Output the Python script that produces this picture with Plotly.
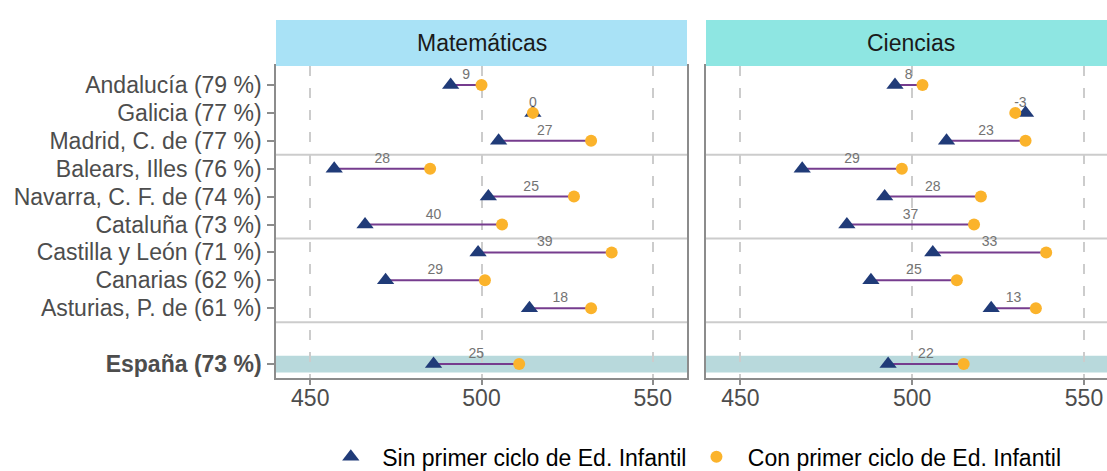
import plotly.graph_objects as go

# regions, top to bottom, as they appear on the y axis
regiones = ['Andalucía (79 %)', 'Galicia (77 %)', 'Madrid, C. de (77 %)',
            'Balears, Illes (76 %)', 'Navarra, C. F. de (74 %)', 'Cataluña (73 %)',
            'Castilla y León (71 %)', 'Canarias (62 %)', 'Asturias, P. de (61 %)',
            'España (73 %)']
posiciones = [11, 10, 9, 8, 7, 6, 5, 4, 3, 1]

mat_sin = [491, 515, 505, 457, 502, 466, 499, 472, 514, 486]
mat_con = [500, 515, 532, 485, 527, 506, 538, 501, 532, 511]
cie_sin = [495, 533, 510, 468, 492, 481, 506, 488, 523, 493]
cie_con = [503, 530, 533, 497, 520, 518, 539, 513, 536, 515]

materias = ['Matemáticas', 'Ciencias']
strip_colors = ['#A9E2F6', '#8EE6E2']
ticks_x = [450, 500, 550]

FONT = 'Liberation Sans, Arial, sans-serif'
W, H = 1107, 471
navy = '#203B78'
gold = '#FBB32B'
purple = '#763C8E'
grey_line = '#CCCCCC'
FS = 23
NB = '\u00a0'  # small gap between legend symbol and text

fig = go.Figure()

panels = [('x', 'y', mat_sin, mat_con, True), ('x2', 'y2', cie_sin, cie_con, False)]

for xa, ya, sin, con, legend in panels:
    seg_x, seg_y = [], []
    for s, c, p in zip(sin, con, posiciones):
        seg_x += [s, c, None]
        seg_y += [p, p, None]
    fig.add_trace(go.Scatter(x=seg_x, y=seg_y, mode='lines',
                             line=dict(color=purple, width=2),
                             showlegend=False, hoverinfo='skip',
                             xaxis=xa, yaxis=ya))
    # difference labels
    fig.add_trace(go.Scatter(x=[(s + c) / 2 for s, c in zip(sin, con)],
                             y=[p + 0.34 for p in posiciones],
                             text=[str(round(c - s)) for s, c in zip(sin, con)],
                             mode='text',
                             textfont=dict(family=FONT, size=14, color='#737373'),
                             showlegend=False, hoverinfo='skip',
                             xaxis=xa, yaxis=ya))
    fig.add_trace(go.Scatter(x=sin, y=posiciones, mode='markers',
                             name=NB + 'Sin primer ciclo de Ed. Infantil',
                             marker=dict(symbol='triangle-up', size=15, color=navy),
                             showlegend=legend, legendgroup='sin',
                             xaxis=xa, yaxis=ya))
    fig.add_trace(go.Scatter(x=con, y=posiciones, mode='markers',
                             name=NB + 'Con primer ciclo de Ed. Infantil',
                             marker=dict(symbol='circle', size=12, color=gold),
                             showlegend=legend, legendgroup='con',
                             xaxis=xa, yaxis=ya))

y_dom = [1 - 378 / H, 1 - 66 / H]
strip_top = 1 - 20 / H
x_doms = [[276 / W, 687 / W], [706 / W, 1.0]]

axis_common = dict(showline=True, mirror=True, linecolor='#8C8C8C', linewidth=1.5,
                   zeroline=False)
xaxis_common = dict(tickvals=ticks_x, showgrid=True, gridcolor=grey_line, gridwidth=2,
                    griddash='10px,12px', ticks='outside', ticklen=5,
                    tickcolor='#8C8C8C', tickwidth=1.5, ticklabelstandoff=-6,
                    tickfont=dict(family=FONT, size=FS, color='#4D4D4D'))

fig.update_layout(
    xaxis=dict(domain=x_doms[0], range=[440, 560], anchor='y',
               **xaxis_common, **axis_common),
    xaxis2=dict(domain=x_doms[1], range=[440, 556.7], anchor='y2',
                **xaxis_common, **axis_common),
    yaxis=dict(domain=y_dom, range=[0.5, 11.68], tickvals=posiciones,
               ticktext=[('<b>%s</b>' % r) if r.startswith('España') else r for r in regiones],
               showgrid=False, ticks='outside', ticklen=7, tickcolor='#8C8C8C', tickwidth=1.5,
               ticklabelstandoff=1,
               tickfont=dict(family=FONT, size=FS, color='#4D4D4D'),
               anchor='x', **axis_common),
    yaxis2=dict(domain=y_dom, range=[0.5, 11.68], showticklabels=False, ticks='',
                showgrid=False, anchor='x2', **axis_common),
    width=W, height=H,
    margin=dict(l=0, r=0, t=0, b=0, autoexpand=False),
    paper_bgcolor='white', plot_bgcolor='white',
    font=dict(family=FONT, size=FS, color='#1A1A1A'),
    legend=dict(orientation='h', x=0.629, xanchor='center', y=0.03, yanchor='middle',
                font=dict(family=FONT, size=FS, color='black'), itemwidth=40,
                bgcolor='rgba(0,0,0,0)', itemclick=False),
)

shapes = []
annotations = []
for i, (xa, ya) in enumerate([('x', 'y'), ('x2', 'y2')]):
    # España highlight band
    shapes.append(dict(type='rect', xref=xa + ' domain', yref=ya, x0=0, x1=1, y0=0.7, y1=1.3,
                       fillcolor='#B8D9DC', line=dict(width=0), layer='below'))
    # group separators
    for ysep in [8.5, 5.5, 2.5]:
        shapes.append(dict(type='line', xref=xa + ' domain', yref=ya, x0=0, x1=1, y0=ysep, y1=ysep,
                           line=dict(color=grey_line, width=2), layer='below'))
    # facet strips
    shapes.append(dict(type='rect', xref='paper', yref='paper',
                       x0=x_doms[i][0], x1=x_doms[i][1], y0=y_dom[1], y1=strip_top,
                       fillcolor=strip_colors[i], line=dict(width=0)))
    annotations.append(dict(text=materias[i], xref='paper', yref='paper',
                            x=x_doms[i][0] + 205.5 / W, xanchor='center',
                            y=(y_dom[1] + strip_top) / 2, yanchor='middle', showarrow=False,
                            font=dict(family=FONT, size=FS, color='#1A1A1A')))

fig.update_layout(shapes=shapes, annotations=annotations)

# drop the default body margin so the figure sits at the window's corner
fig.write_html('out.html', config={'displayModeBar': False},
               post_script="document.body.style.margin='0';")
